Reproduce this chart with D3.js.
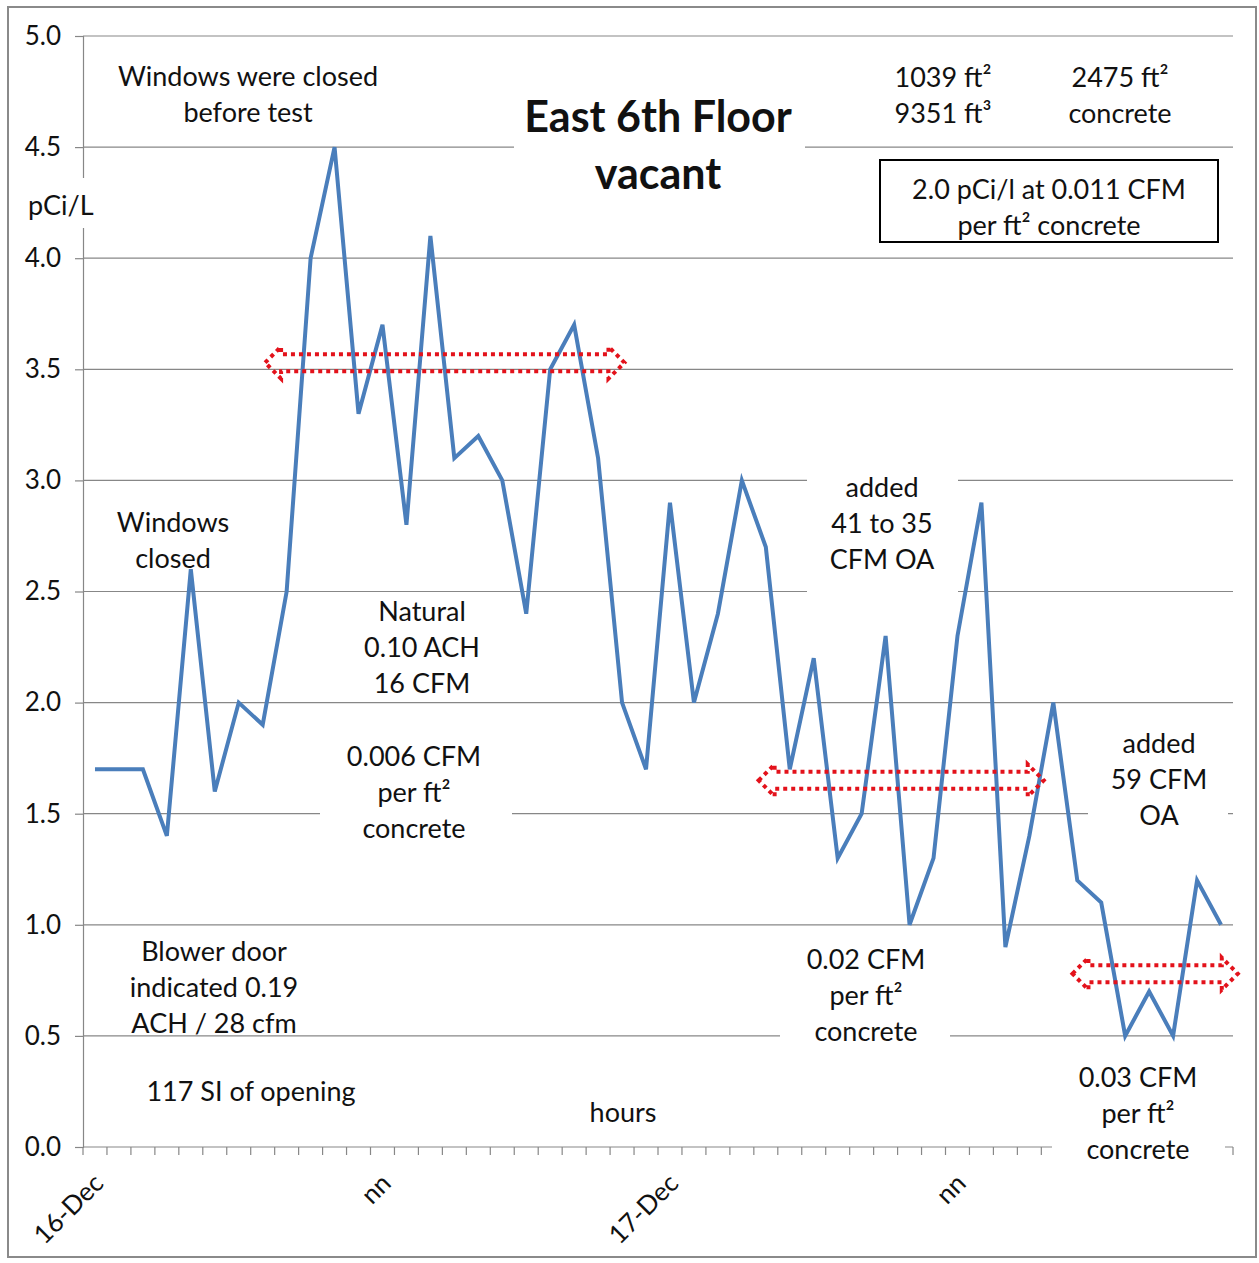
<!DOCTYPE html>
<html>
<head>
<meta charset="utf-8">
<script src="https://cdn.jsdelivr.net/npm/d3@7"></script>
<style>
  html, body { margin: 0; padding: 0; background: #ffffff; }
  svg { display: block; }
  text { font-family: Lato, "Open Sans", sans-serif; fill: #111; }
</style>
</head>
<body>
<svg id="chart" width="1259" height="1263"></svg>
<script>
// ---- data ----
const categories = [
  "16-Dec","","","","","","","","","","","",
  "nn","","","","","","","","","","","",
  "17-Dec","","","","","","","","","","","",
  "nn","","","","","","","","","","",""
];
const radon = [
  1.7, 1.7, 1.7, 1.4, 2.6, 1.6, 2.0, 1.9, 2.5, 4.0, 4.5, 3.3,
  3.7, 2.8, 4.1, 3.1, 3.2, 3.0, 2.4, 3.5, 3.7, 3.1, 2.0, 1.7,
  2.9, 2.0, 2.4, 3.0, 2.7, 1.7, 2.2, 1.3, 1.5, 2.3, 1.0, 1.3,
  2.3, 2.9, 0.9, 1.4, 2.0, 1.2, 1.1, 0.5, 0.7, 0.5, 1.2, 1.0
];
const yTicks = [0, 0.5, 1, 1.5, 2, 2.5, 3, 3.5, 4, 4.5, 5];
const yTickLabels = ["0.0","0.5","1.0","1.5","2.0","2.5","3.0","3.5","4.0","4.5","5.0"];
// arrows: [from category position, to category position, value]
const arrowSpans = [[7.6, 22.6, 3.53], [28.2, 40.1, 1.65], [41.3, 48.2, 0.78]];

// ---- layout ----
const svg = d3.select("#chart");
const L = 83, R = 1233, T = 36, B = 1147;
const x = d3.scaleBand().domain(d3.range(categories.length)).range([L, R]).padding(0);
const xc = i => x(i) + x.bandwidth() / 2;
const xpos = v => L + v * x.bandwidth();
const y = d3.scaleLinear().domain([0, 5]).range([B, T]);

// outer border
svg.append("rect").attr("x", 8).attr("y", 7).attr("width", 1248).attr("height", 1250)
  .attr("fill", "#fff").attr("stroke", "#8a8a8a").attr("stroke-width", 2);

const gridColor = "#878787";
// gridlines
svg.append("g").selectAll("line").data(yTicks.filter(d => d > 0)).join("line")
  .attr("x1", L).attr("x2", R).attr("y1", d => y(d)).attr("y2", d => y(d))
  .attr("stroke", gridColor).attr("stroke-width", 1.2);

// y axis
const yAxis = d3.axisLeft(y).tickValues(yTicks).tickFormat((d, i) => yTickLabels[i])
  .tickSize(8).tickPadding(14);
const gy = svg.append("g").attr("transform", `translate(${L},0)`).call(yAxis);
gy.select(".domain").attr("stroke", gridColor).attr("stroke-width", 1.2);
gy.selectAll(".tick line").attr("stroke", gridColor).attr("stroke-width", 1.2);
gy.selectAll(".tick text").style("font-family", "Lato, sans-serif").style("font-size", "26px")
  .attr("fill", "#111");

// x axis
const gx = svg.append("g").attr("transform", `translate(0,${B})`);
gx.append("line").attr("x1", L).attr("x2", R).attr("y1", 0).attr("y2", 0)
  .attr("stroke", gridColor).attr("stroke-width", 1.2);
gx.selectAll("line.tk").data(d3.range(categories.length + 1)).join("line").attr("class", "tk")
  .attr("x1", d => xpos(d)).attr("x2", d => xpos(d)).attr("y1", 0).attr("y2", 8)
  .attr("stroke", gridColor).attr("stroke-width", 1.2);
gx.selectAll("text").data(categories.map((c, i) => ({c, i})).filter(d => d.c !== "")).join("text")
  .attr("transform", d => `translate(${xc(d.i) + 10},${38}) rotate(-45)`)
  .attr("text-anchor", "end").style("font-size", "26px").text(d => d.c);

// data line
const line = d3.line().x((d, i) => xc(i)).y(d => y(d));
svg.append("path").datum(radon).attr("d", line).attr("fill", "none")
  .attr("stroke", "#4a7ebb").attr("stroke-width", 4).attr("stroke-linejoin", "miter");

// red dotted double arrows
const bh = 8.5, hh = 16, hw = 16;
arrowSpans.forEach(([a, b, v]) => {
  const x0 = xpos(a), x1 = xpos(b), cy = y(v);
  const pts = [[x0, cy], [x0 + hw, cy - hh], [x0 + hw, cy - bh], [x1 - hw, cy - bh], [x1 - hw, cy - hh],
    [x1, cy], [x1 - hw, cy + hh], [x1 - hw, cy + bh], [x0 + hw, cy + bh], [x0 + hw, cy + hh]];
  svg.append("polygon").attr("points", pts.map(p => p.join(",")).join(" "))
    .attr("fill", "none").attr("stroke", "#e3121b").attr("stroke-width", 4)
    .attr("stroke-dasharray", "4,4");
});

// white text-box backgrounds that hide gridlines
const masks = [[514, 88, 291, 108], [807, 462, 151, 140], [320, 735, 192, 110],
  [780, 935, 170, 115], [1088, 722, 140, 108], [1052, 1056, 173, 112], [20, 178, 68, 50]];
svg.append("g").selectAll("rect").data(masks).join("rect")
  .attr("x", d => d[0]).attr("y", d => d[1]).attr("width", d => d[2]).attr("height", d => d[3])
  .attr("fill", "#fff");

// bordered note box
svg.append("rect").attr("x", 880).attr("y", 160).attr("width", 338).attr("height", 82)
  .attr("fill", "#fff").attr("stroke", "#000").attr("stroke-width", 2);

// annotations
const notes = [
  {t: ["Windows were closed", "before test"], x: 248, y: 75},
  {t: ["East 6th Floor", "vacant"], x: 658, y: 115, size: 43, bold: true, lh: 57},
  {t: ["1039 ft²", "9351 ft³"], x: 943, y: 76},
  {t: ["2475 ft²", "concrete"], x: 1120, y: 76},
  {t: ["2.0 pCi/l at 0.011 CFM", "per ft² concrete"], x: 1049, y: 188},
  {t: ["pCi/L"], x: 28, y: 204, anchor: "start"},
  {t: ["Windows", "closed"], x: 173, y: 521},
  {t: ["Natural", "0.10 ACH", "16 CFM"], x: 422, y: 610},
  {t: ["0.006 CFM", "per ft²", "concrete"], x: 414, y: 755},
  {t: ["added", "41 to 35", "CFM OA"], x: 882, y: 486},
  {t: ["added", "59 CFM", "OA"], x: 1159, y: 742},
  {t: ["Blower door", "indicated 0.19", "ACH / 28 cfm"], x: 214, y: 950},
  {t: ["117 SI of opening"], x: 251, y: 1090},
  {t: ["hours"], x: 623, y: 1111},
  {t: ["0.02 CFM", "per ft²", "concrete"], x: 866, y: 958},
  {t: ["0.03 CFM", "per ft²", "concrete"], x: 1138, y: 1076}
];
notes.forEach(n => {
  const lh = n.lh || 36;
  const txt = svg.append("text").attr("text-anchor", n.anchor || "middle")
    .style("font-size", (n.size || 27) + "px").style("font-weight", n.bold ? "700" : "400");
  n.t.forEach((s, i) => {
    txt.append("tspan").attr("x", n.x).attr("y", n.y + i * lh).attr("dominant-baseline", "central").text(s);
  });
});
</script>
</body>
</html>
